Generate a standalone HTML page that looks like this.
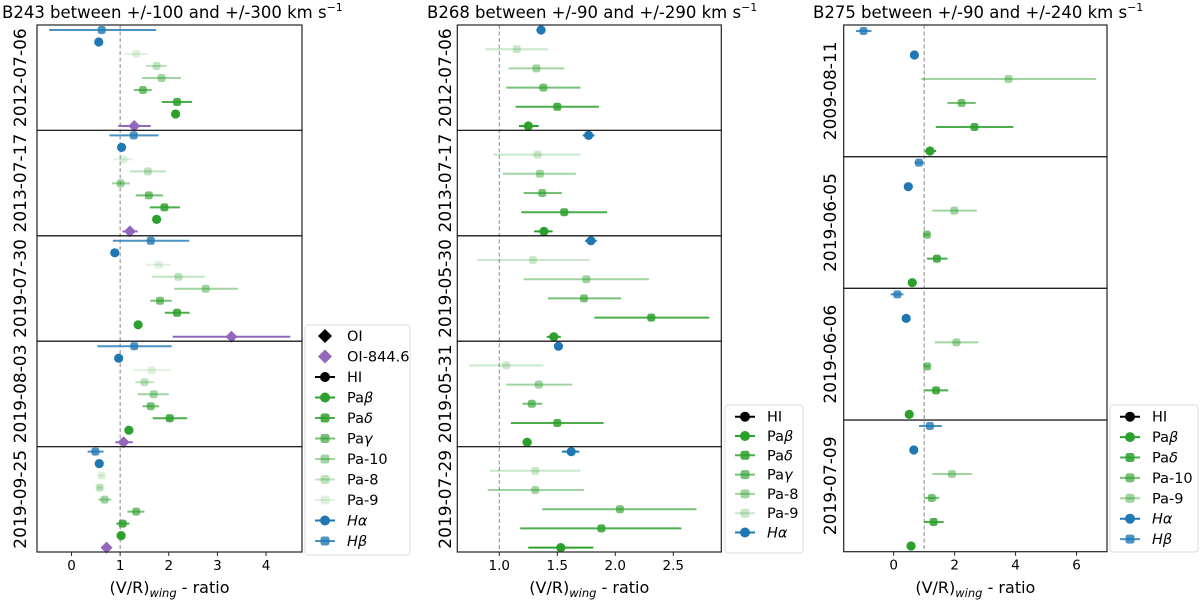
<!DOCTYPE html>
<html><head><meta charset="utf-8"><style>
html,body{margin:0;padding:0;background:#fff;}
svg{display:block;font-family:"DejaVu Sans","Liberation Sans",sans-serif;}
</style></head><body>
<svg id="chart" width="1200" height="600" viewBox="0 0 1200 600"></svg>
<script>
// ---------- Panel 1: B243 ----------
const p1Dates = ["2012-07-06","2013-07-17","2019-07-30","2019-08-03","2019-09-25"];
const p1Species = ["Hb","Ha","Pa9","Pa8","Pa10","Pag","Pad","Pab","OI8446"];
const p1HbVal = [0.62,1.28,1.63,1.29,0.49];
const p1HbLo  = [-0.46,0.78,0.85,0.53,0.33];
const p1HbHi  = [1.74,1.79,2.42,2.06,0.66];
const p1HaVal = [0.56,1.03,0.89,0.97,0.57];
const p1Pa9Val = [1.33,1.07,1.79,1.65,0.62];
const p1Pa9Lo  = [1.08,0.87,1.53,1.27,0.55];
const p1Pa9Hi  = [1.57,1.26,2.05,2.03,0.68];
const p1Pa8Val = [1.75,1.57,2.2,1.5,0.58];
const p1Pa8Lo  = [1.53,1.2,1.66,1.31,0.53];
const p1Pa8Hi  = [1.96,1.94,2.74,1.7,0.63];
const p1Pa10Val = [1.85,1.01,2.76,1.69,0.68];
const p1Pa10Lo  = [1.45,0.83,2.11,1.36,0.55];
const p1Pa10Hi  = [2.25,1.2,3.42,2.0,0.82];
const p1PagVal = [1.47,1.59,1.82,1.63,1.33];
const p1PagLo  = [1.28,1.32,1.62,1.46,1.15];
const p1PagHi  = [1.65,1.88,2.06,1.8,1.5];
const p1PadVal = [2.17,1.91,2.17,2.02,1.05];
const p1PadLo  = [1.86,1.61,1.92,1.67,0.92];
const p1PadHi  = [2.48,2.23,2.43,2.38,1.19];
const p1PabVal = [2.14,1.75,1.37,1.18,1.02];
const p1OIVal = [1.29,1.2,3.29,1.07,0.72];
const p1OILo  = [0.96,1.05,2.08,0.9,0.68];
const p1OIHi  = [1.63,1.36,4.5,1.26,0.76];
const p1Ticks = [0,1,2,3,4];
const p1TickLabels = ["0","1","2","3","4"];

// ---------- Panel 2: B268 ----------
const p2Dates = ["2012-07-06","2013-07-17","2019-05-30","2019-05-31","2019-07-29"];
const p2HaVal = [1.36,1.77,1.79,1.51,1.62];
const p2HaLo  = [1.32,1.72,1.74,1.49,1.54];
const p2HaHi  = [1.40,1.82,1.84,1.53,1.69];
const p2Pa9Val = [1.15,1.33,1.29,1.06,1.31];
const p2Pa9Lo  = [0.88,0.95,0.81,0.74,0.92];
const p2Pa9Hi  = [1.42,1.70,1.78,1.38,1.70];
const p2Pa8Val = [1.32,1.35,1.75,1.34,1.31];
const p2Pa8Lo  = [1.08,1.03,1.21,1.06,0.90];
const p2Pa8Hi  = [1.56,1.66,2.29,1.63,1.73];
const p2PagVal = [1.38,1.37,1.73,1.28,2.04];
const p2PagLo  = [1.06,1.21,1.42,1.2,1.37];
const p2PagHi  = [1.70,1.54,2.05,1.37,2.70];
const p2PadVal = [1.5,1.56,2.31,1.5,1.88];
const p2PadLo  = [1.14,1.19,1.82,1.10,1.18];
const p2PadHi  = [1.86,1.93,2.81,1.9,2.57];
const p2PabVal = [1.25,1.385,1.47,1.24,1.53];
const p2PabLo  = [1.17,1.30,1.41,1.2,1.25];
const p2PabHi  = [1.34,1.46,1.53,1.28,1.81];
const p2Ticks = [1.0,1.5,2.0,2.5];
const p2TickLabels = ["1.0","1.5","2.0","2.5"];

// ---------- Panel 3: B275 ----------
const p3Dates = ["2009-08-11","2019-06-05","2019-06-06","2019-07-09"];
const p3HbVal = [-0.99,0.83,0.12,1.19];
const p3HbLo  = [-1.24,0.68,-0.1,0.83];
const p3HbHi  = [-0.73,0.98,0.32,1.58];
const p3HaVal = [0.68,0.48,0.41,0.66];
const p3Pa9Val = [3.77,1.99,2.06,1.91];
const p3Pa9Lo  = [0.9,1.27,1.35,1.27];
const p3Pa9Hi  = [6.64,2.73,2.78,2.57];
const p3Pa10Val = [2.23,1.09,1.1,1.25];
const p3Pa10Lo  = [1.76,1.01,1.02,1.0];
const p3Pa10Hi  = [2.69,1.17,1.18,1.49];
const p3PadVal = [2.65,1.42,1.39,1.31];
const p3PadLo  = [1.38,1.09,1.02,1.0];
const p3PadHi  = [3.93,1.77,1.79,1.64];
const p3PabVal = [1.19,0.61,0.51,0.57];
const p3PabLo  = [1.03,0.61,0.51,0.57];
const p3PabHi  = [1.39,0.61,0.51,0.57];
const p3Ticks = [0,2,4,6];
const p3TickLabels = ["0","2","4","6"];

const NS = "http://www.w3.org/2000/svg";
const svg = document.getElementById("chart");
function mk(tag, attrs, parent){
  const e = document.createElementNS(NS, tag);
  for (const k in attrs) e.setAttribute(k, attrs[k]);
  (parent||svg).appendChild(e);
  return e;
}
const BLUE="#1f77b4", GREEN="#2ca02c", PURPLE="#9467bd";

function drawPanel(cfg){
  const g = mk("g",{});
  
  
  const xs = v => cfg.L + (v - cfg.xmin)/(cfg.xmax - cfg.xmin)*(cfg.R - cfg.L);
  const n = cfg.dates.length;
  const h = (cfg.B - cfg.T)/n;
  const t = mk("text",{x:cfg.titleX,y:18,"font-size":"16.5"},g);
  
  
  t.textContent = cfg.title;
  const sup = mk("tspan",{dy:"-7","font-size":"11"},t); sup.textContent="\u22121";
  const dl = mk("line",{x1:xs(1),x2:xs(1),y1:cfg.T,y2:cfg.B,stroke:"#888","stroke-width":1,"stroke-dasharray":"4,2.5"},g);
  
  
  cfg.series.forEach((s, si) => {
    for (let i=0;i<n;i++){
      const v = s.val[i];
      if (v === null || v === undefined) continue;
      const y = cfg.T + i*h + cfg.row0 + si*cfg.step;
      const col = s.color, op = s.alpha;
      if (s.lo){
        const el = mk("line",{x1:xs(s.lo[i]),x2:xs(s.hi[i]),y1:y,y2:y,stroke:col,"stroke-opacity":op,"stroke-width":2},g);
        
        
      }
      let m;
      const cx = xs(v);
      if (s.shape==="circle") m = mk("circle",{cx:cx,cy:y,r:4.6,fill:col,"fill-opacity":op},g);
      else if (s.shape==="diamond") m = mk("polygon",{points:`${cx},${y-6} ${cx+6},${y} ${cx},${y+6} ${cx-6},${y}`,fill:col,"fill-opacity":op},g);
      else m = mk("rect",{x:cx-4,y:y-4,width:8,height:8,rx:2.5,fill:col,"fill-opacity":op},g);
      
      
    }
  });
  for (let i=0;i<n;i++){
    const r = mk("rect",{x:cfg.L,y:cfg.T+i*h,width:cfg.R-cfg.L,height:h,fill:"none",stroke:"#222","stroke-width":1.2},g);
    
    
    const cy = cfg.T + i*h + h/2;
    const lab = mk("text",{x:0,y:0,"font-size":"17","text-anchor":"middle",transform:`translate(${cfg.ylabX},${cy}) rotate(-90)`},g);
    
    
    lab.textContent = cfg.dates[i];
  }
  cfg.ticks.forEach((tv, ti) => {
    const x = xs(tv);
    const tk = mk("line",{x1:x,x2:x,y1:cfg.B,y2:cfg.B+4,stroke:"#222","stroke-width":1},g);
    
    
    const tl = mk("text",{x:x,y:cfg.B+18,"font-size":"13.5","text-anchor":"middle"},g);
    
    
    tl.textContent = cfg.tickLabels[ti];
  });
  const xl = mk("text",{x:(cfg.L+cfg.R)/2,y:593,"font-size":"16","text-anchor":"middle"},g);
  
  
  xl.appendChild(document.createTextNode("(V/R)"));
  const sb = mk("tspan",{dy:"4","font-size":"11.5","font-style":"italic"},xl); sb.textContent="wing";
  const rest = mk("tspan",{dy:"-4"},xl); rest.textContent=" - ratio";
  const lg = mk("g",{},g);
  
  
  const lb = mk("rect",{x:cfg.lgX,y:cfg.lgY,width:cfg.lgW,height:cfg.lgH,rx:3,fill:"#fff",stroke:"#ddd","stroke-width":1},lg);
  
  
  cfg.legend.forEach((e, ei) => {
    const y = cfg.lgY0 + ei*cfg.lgStep;
    const mx = cfg.lgX + 20;
    const eg = mk("g",{},lg);
    
    
    if (e.line) mk("line",{x1:mx-10,x2:mx+10,y1:y,y2:y,stroke:e.color,"stroke-opacity":e.alpha,"stroke-width":2},eg);
    if (e.shape==="diamond") mk("polygon",{points:`${mx},${y-7} ${mx+7},${y} ${mx},${y+7} ${mx-7},${y}`,fill:e.color,"fill-opacity":e.alpha},eg);
    else if (e.shape==="circle") mk("circle",{cx:mx,cy:y,r:5,fill:e.color,"fill-opacity":e.alpha},eg);
    else mk("rect",{x:mx-4.5,y:y-4.5,width:9,height:9,rx:2.5,fill:e.color,"fill-opacity":e.alpha},eg);
    const tx = mk("text",{x:cfg.lgX+42,y:y+5,"font-size":"14.5"},eg);
    tx.textContent = e.label[0];
    if (e.label[1]){ const ts = mk("tspan",{"font-style":"italic"},tx); ts.textContent = e.label[1]; }
  });
}

drawPanel({
  name:"panel-b243", title:"B243 between +/-100 and +/-300 km s", titleX:2,
  L:37, R:302, T:25, B:552, xmin:-0.71, xmax:4.74, row0:5, step:12, ylabX:26,
  dates:p1Dates, ticks:p1Ticks, tickLabels:p1TickLabels,
  series:[
    {key:"hb",val:p1HbVal,lo:p1HbLo,hi:p1HbHi,color:BLUE,alpha:0.8,shape:"rect"},
    {key:"ha",val:p1HaVal,color:BLUE,alpha:1,shape:"circle"},
    {key:"pa9",val:p1Pa9Val,lo:p1Pa9Lo,hi:p1Pa9Hi,color:GREEN,alpha:0.15,shape:"rect"},
    {key:"pa8",val:p1Pa8Val,lo:p1Pa8Lo,hi:p1Pa8Hi,color:GREEN,alpha:0.3,shape:"rect"},
    {key:"pa10",val:p1Pa10Val,lo:p1Pa10Lo,hi:p1Pa10Hi,color:GREEN,alpha:0.45,shape:"rect"},
    {key:"pag",val:p1PagVal,lo:p1PagLo,hi:p1PagHi,color:GREEN,alpha:0.65,shape:"rect"},
    {key:"pad",val:p1PadVal,lo:p1PadLo,hi:p1PadHi,color:GREEN,alpha:0.85,shape:"rect"},
    {key:"pab",val:p1PabVal,color:GREEN,alpha:1,shape:"circle"},
    {key:"oi8446",val:p1OIVal,lo:p1OILo,hi:p1OIHi,color:PURPLE,alpha:1,shape:"diamond"}
  ],
  lgX:305, lgY:325, lgW:105, lgH:230, lgY0:336, lgStep:20.5,
  legend:[
    {label:["OI"],color:"#000",alpha:1,shape:"diamond",line:false},
    {label:["OI-844.6"],color:PURPLE,alpha:1,shape:"diamond",line:false},
    {label:["HI"],color:"#000",alpha:1,shape:"circle",line:true},
    {label:["Pa","\u03B2"],color:GREEN,alpha:1,shape:"circle",line:true},
    {label:["Pa","\u03B4"],color:GREEN,alpha:0.85,shape:"rect",line:true},
    {label:["Pa","\u03B3"],color:GREEN,alpha:0.65,shape:"rect",line:true},
    {label:["Pa-10"],color:GREEN,alpha:0.45,shape:"rect",line:true},
    {label:["Pa-8"],color:GREEN,alpha:0.3,shape:"rect",line:true},
    {label:["Pa-9"],color:GREEN,alpha:0.15,shape:"rect",line:true},
    {label:["","H\u03B1"],color:BLUE,alpha:1,shape:"circle",line:true},
    {label:["","H\u03B2"],color:BLUE,alpha:0.8,shape:"rect",line:true}
  ]
});

drawPanel({
  name:"panel-b268", title:"B268 between +/-90 and +/-290 km s", titleX:427,
  L:457.3, R:721.3, T:25, B:552, xmin:0.638, xmax:2.914, row0:5, step:19.2, ylabX:451,
  dates:p2Dates, ticks:p2Ticks, tickLabels:p2TickLabels,
  series:[
    {key:"ha",val:p2HaVal,lo:p2HaLo,hi:p2HaHi,color:BLUE,alpha:1,shape:"circle"},
    {key:"pa9",val:p2Pa9Val,lo:p2Pa9Lo,hi:p2Pa9Hi,color:GREEN,alpha:0.25,shape:"rect"},
    {key:"pa8",val:p2Pa8Val,lo:p2Pa8Lo,hi:p2Pa8Hi,color:GREEN,alpha:0.45,shape:"rect"},
    {key:"pag",val:p2PagVal,lo:p2PagLo,hi:p2PagHi,color:GREEN,alpha:0.65,shape:"rect"},
    {key:"pad",val:p2PadVal,lo:p2PadLo,hi:p2PadHi,color:GREEN,alpha:0.85,shape:"rect"},
    {key:"pab",val:p2PabVal,lo:p2PabLo,hi:p2PabHi,color:GREEN,alpha:1,shape:"circle"}
  ],
  lgX:725, lgY:405, lgW:78, lgH:148, lgY0:416.7, lgStep:19.3,
  legend:[
    {label:["HI"],color:"#000",alpha:1,shape:"circle",line:true},
    {label:["Pa","\u03B2"],color:GREEN,alpha:1,shape:"circle",line:true},
    {label:["Pa","\u03B4"],color:GREEN,alpha:0.85,shape:"rect",line:true},
    {label:["Pa","\u03B3"],color:GREEN,alpha:0.65,shape:"rect",line:true},
    {label:["Pa-8"],color:GREEN,alpha:0.45,shape:"rect",line:true},
    {label:["Pa-9"],color:GREEN,alpha:0.25,shape:"rect",line:true},
    {label:["","H\u03B1"],color:BLUE,alpha:1,shape:"circle",line:true}
  ]
});

drawPanel({
  name:"panel-b275", title:"B275 between +/-90 and +/-240 km s", titleX:813,
  L:843.7, R:1107, T:25, B:551.7, xmin:-1.64, xmax:7.0, row0:6, step:24, ylabX:836,
  dates:p3Dates, ticks:p3Ticks, tickLabels:p3TickLabels,
  series:[
    {key:"hb",val:p3HbVal,lo:p3HbLo,hi:p3HbHi,color:BLUE,alpha:0.8,shape:"rect"},
    {key:"ha",val:p3HaVal,color:BLUE,alpha:1,shape:"circle"},
    {key:"pa9",val:p3Pa9Val,lo:p3Pa9Lo,hi:p3Pa9Hi,color:GREEN,alpha:0.45,shape:"rect"},
    {key:"pa10",val:p3Pa10Val,lo:p3Pa10Lo,hi:p3Pa10Hi,color:GREEN,alpha:0.65,shape:"rect"},
    {key:"pad",val:p3PadVal,lo:p3PadLo,hi:p3PadHi,color:GREEN,alpha:0.85,shape:"rect"},
    {key:"pab",val:p3PabVal,lo:p3PabLo,hi:p3PabHi,color:GREEN,alpha:1,shape:"circle"}
  ],
  lgX:1110, lgY:405, lgW:88, lgH:147, lgY0:416.7, lgStep:20.4,
  legend:[
    {label:["HI"],color:"#000",alpha:1,shape:"circle",line:true},
    {label:["Pa","\u03B2"],color:GREEN,alpha:1,shape:"circle",line:true},
    {label:["Pa","\u03B4"],color:GREEN,alpha:0.85,shape:"rect",line:true},
    {label:["Pa-10"],color:GREEN,alpha:0.65,shape:"rect",line:true},
    {label:["Pa-9"],color:GREEN,alpha:0.45,shape:"rect",line:true},
    {label:["","H\u03B1"],color:BLUE,alpha:1,shape:"circle",line:true},
    {label:["","H\u03B2"],color:BLUE,alpha:0.8,shape:"rect",line:true}
  ]
});
</script>
</body></html>
